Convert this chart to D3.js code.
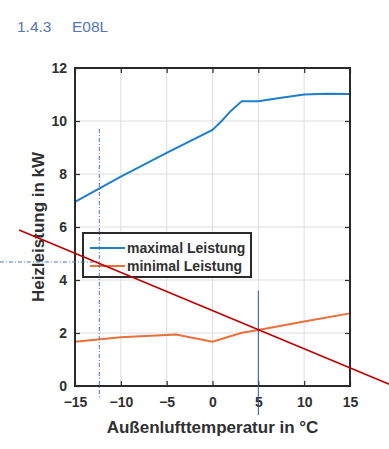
<!DOCTYPE html>
<html>
<head>
<meta charset="utf-8">
<script src="https://cdn.jsdelivr.net/npm/d3@7"></script>
<style>
  html, body { margin: 0; padding: 0; background: #fff; }
  svg { display: block; }
  text { font-family: "Liberation Sans", Arial, sans-serif; }
</style>
</head>
<body>
<div id="chart"></div>
<script>
// Heizleistung E08L — max/min Leistung über Außenlufttemperatur

const maxTemps = [-15, -10, -5, 0, 1, 2, 3.2, 5, 7.5, 10, 12.5, 15];
const maxLeistung = [6.95, 7.9, 8.8, 9.66, 10.0, 10.38, 10.75, 10.75, 10.88, 11.0, 11.03, 11.02];

const minTemps = [-15, -10, -5, -4, 0, 3.2, 5, 10, 15];
const minLeistung = [1.67, 1.84, 1.92, 1.94, 1.67, 2.01, 2.11, 2.43, 2.74];

const xTicks = [-15, -10, -5, 0, 5, 10, 15];
const yTicks = [0, 2, 4, 6, 8, 10, 12];

const seriesNames = ['maximal Leistung', 'minimal Leistung'];

// Heizlastgerade (nachträglich eingezeichnet)
const lastTemps = [-21.1, 19.3];
const lastLeistung = [5.89, 0.06];

// Auslegungspunkt + Markierung bei 5 °C
const designTemp = -12.35;
const designLoad = 4.68;
const markTemp = 5;

const width = 389, height = 449;
const margin = { top: 68, right: 39, bottom: 63, left: 75 };

const svg = d3.select('#chart').append('svg')
    .attr('width', width)
    .attr('height', height);

const x = d3.scaleLinear().domain([-15, 15]).range([margin.left, width - margin.right]);
const y = d3.scaleLinear().domain([0, 12]).range([height - margin.bottom, margin.top]);

// Titel
svg.append('text').attr('x', 17).attr('y', 32)
    .attr('font-size', 15.5).attr('fill', '#5576b8').text('1.4.3');
svg.append('text').attr('x', 72).attr('y', 32)
    .attr('font-size', 15.5).attr('fill', '#5576b8').text('E08L');

// Grid
const grid = svg.append('g').attr('stroke', '#dedede').attr('stroke-width', 1);
grid.selectAll('line.gx').data(xTicks.slice(1, -1)).join('line')
    .attr('x1', d => x(d)).attr('x2', d => x(d))
    .attr('y1', y(0)).attr('y2', y(12));
grid.selectAll('line.gy').data(yTicks.slice(1, -1)).join('line')
    .attr('y1', d => y(d)).attr('y2', d => y(d))
    .attr('x1', x(-15)).attr('x2', x(15));

// Kurven
const line = d3.line().x(d => x(d[0])).y(d => y(d[1]));
svg.append('path')
    .datum(d3.zip(maxTemps, maxLeistung))
    .attr('fill', 'none').attr('stroke', '#1f7fc8').attr('stroke-width', 2)
    .attr('d', line);
svg.append('path')
    .datum(d3.zip(minTemps, minLeistung))
    .attr('fill', 'none').attr('stroke', '#e8703a').attr('stroke-width', 2)
    .attr('d', line);

// Achsen (Ticks nach innen, Box)
const axisColor = '#2a2a2a';
function styleAxis(g) {
    g.select('.domain').remove();
    g.selectAll('.tick line').attr('stroke', axisColor).attr('stroke-width', 1.2);
    g.selectAll('.tick text')
        .attr('fill', '#303030')
        .attr('font-size', 14)
        .attr('font-weight', 'bold')
        .attr('font-family', '"Liberation Sans", Arial, sans-serif');
}

svg.append('g')
    .attr('transform', `translate(0,${y(0)})`)
    .call(d3.axisBottom(x).tickValues(xTicks).tickSizeInner(-5).tickSizeOuter(0).tickPadding(11))
    .call(styleAxis);
svg.append('g')
    .attr('transform', `translate(0,${y(12)})`)
    .call(d3.axisTop(x).tickValues(xTicks).tickSizeInner(-5).tickSizeOuter(0).tickFormat(''))
    .call(styleAxis);
svg.append('g')
    .attr('transform', `translate(${x(-15)},0)`)
    .call(d3.axisLeft(y).tickValues(yTicks).tickSizeInner(-5).tickSizeOuter(0).tickPadding(8))
    .call(styleAxis);
svg.append('g')
    .attr('transform', `translate(${x(15)},0)`)
    .call(d3.axisRight(y).tickValues(yTicks).tickSizeInner(-5).tickSizeOuter(0).tickFormat(''))
    .call(styleAxis);

svg.append('rect')
    .attr('x', x(-15)).attr('y', y(12))
    .attr('width', x(15) - x(-15)).attr('height', y(0) - y(12))
    .attr('fill', 'none').attr('stroke', axisColor).attr('stroke-width', 2);

// Achsentitel
svg.append('text')
    .attr('x', (x(-15) + x(15)) / 2).attr('y', 433)
    .attr('text-anchor', 'middle')
    .attr('font-size', 17).attr('font-weight', 'bold').attr('fill', '#303030')
    .text('Außenlufttemperatur in °C');
svg.append('text')
    .attr('transform', `translate(44,${(y(0) + y(12)) / 2}) rotate(-90)`)
    .attr('text-anchor', 'middle')
    .attr('font-size', 17).attr('font-weight', 'bold').attr('fill', '#303030')
    .text('Heizleistung in kW');

// Legende
const legend = svg.append('g').attr('transform', 'translate(83,233)');
legend.append('rect')
    .attr('width', 168).attr('height', 44)
    .attr('fill', '#fff').attr('stroke', axisColor).attr('stroke-width', 2);
const legColors = ['#1f7fc8', '#e8703a'];
seriesNames.forEach((name, i) => {
    const ly = 15 + i * 18;
    legend.append('line')
        .attr('x1', 7).attr('x2', 42).attr('y1', ly).attr('y2', ly)
        .attr('stroke', legColors[i]).attr('stroke-width', 2);
    legend.append('text')
        .attr('x', 44).attr('y', ly + 5)
        .attr('font-size', 14).attr('font-weight', 'bold').attr('fill', '#303030')
        .text(name);
});

// Markierungen
const markBlue = '#4472c4';
svg.append('line')
    .attr('x1', x(designTemp)).attr('x2', x(designTemp))
    .attr('y1', y(9.7)).attr('y2', y(-0.45))
    .attr('stroke', markBlue).attr('stroke-width', 1)
    .attr('stroke-dasharray', '4,2,1,2');
svg.append('line')
    .attr('x1', x(-23.2)).attr('x2', x(designTemp))
    .attr('y1', y(designLoad)).attr('y2', y(designLoad))
    .attr('stroke', markBlue).attr('stroke-width', 1)
    .attr('stroke-dasharray', '4,2,1,2');
svg.append('line')
    .attr('x1', x(markTemp)).attr('x2', x(markTemp))
    .attr('y1', y(3.6)).attr('y2', y(-1.1))
    .attr('stroke', '#2f5597').attr('stroke-width', 1);

svg.append('path')
    .datum(d3.zip(lastTemps, lastLeistung))
    .attr('fill', 'none').attr('stroke', '#c00000').attr('stroke-width', 1.6)
    .attr('d', line);
</script>
</body>
</html>
